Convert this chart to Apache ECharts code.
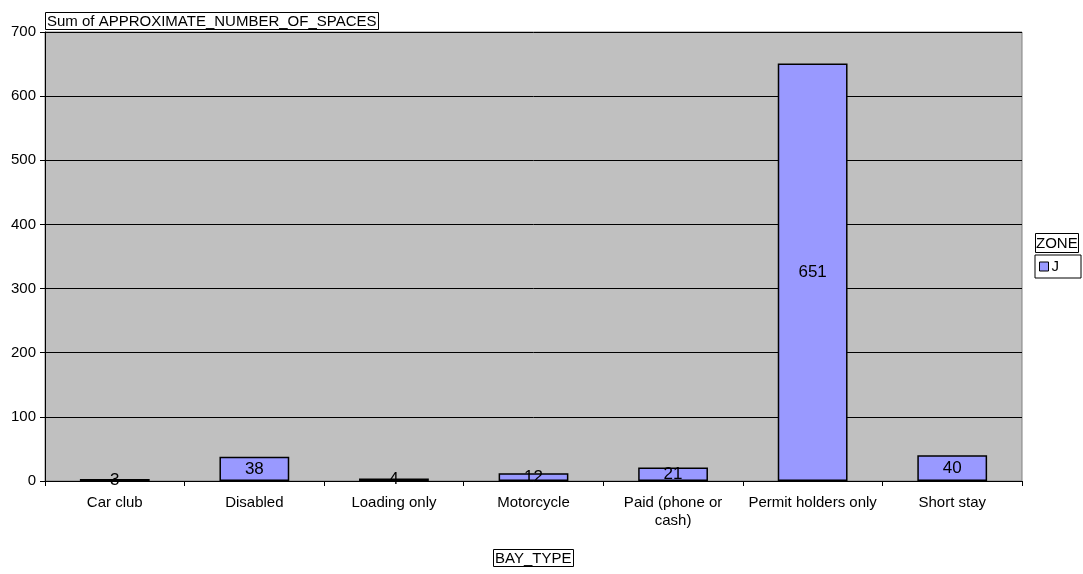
<!DOCTYPE html>
<html>
<head>
<meta charset="utf-8">
<script src="https://cdn.jsdelivr.net/npm/echarts@6/dist/echarts.min.js"></script>
<style>
  html, body { margin: 0; padding: 0; background: #fff; }
  #chart { width: 1083px; height: 574px; }
</style>
</head>
<body>
<div id="chart"></div>
<script>
const bayTypes = ['Car club', 'Disabled', 'Loading only', 'Motorcycle', 'Paid (phone or cash)', 'Permit holders only', 'Short stay'];
const zoneJ = [3, 38, 4, 12, 21, 651, 40];
const yTicks = [0, 100, 200, 300, 400, 500, 600, 700];

const chart = echarts.init(document.getElementById('chart'));
const font = 'Arial, "Liberation Sans", sans-serif';
const boxText = { fontSize: 15, fontWeight: 'normal', color: '#000', fontFamily: font };

chart.setOption({
    animation: false,
    textStyle: { fontFamily: font },
    title: [
        {
            text: 'Sum of APPROXIMATE_NUMBER_OF_SPACES',
            left: 45, top: 12,
            padding: [2, 2, 1, 2],
            borderColor: '#000', borderWidth: 1,
            textStyle: boxText
        },
        {
            text: 'BAY_TYPE',
            left: 493, top: 549,
            padding: [2, 2, 1, 2],
            borderColor: '#000', borderWidth: 1,
            textStyle: boxText
        },
        {
            text: 'ZONE',
            left: 1035, top: 233,
            padding: [3, 1, 2, 1],
            borderColor: '#000', borderWidth: 1,
            textStyle: boxText
        }
    ],
    legend: {
        data: ['J'],
        left: 1035, top: 255,
        padding: [4, 22, 4, 4],
        borderColor: '#000', borderWidth: 1,
        itemWidth: 9, itemHeight: 9,
        itemGap: 4,
        icon: 'rect',
        itemStyle: { borderColor: '#000', borderWidth: 1 },
        textStyle: { fontSize: 15, color: '#000', padding: [0, 0, 0, -2] }
    },
    grid: {
        left: 45, right: 61, top: 32, bottom: 93,
        show: true,
        backgroundColor: '#c0c0c0',
        borderColor: '#808080', borderWidth: 1
    },
    xAxis: {
        type: 'category',
        data: bayTypes,
        axisLine: { lineStyle: { color: '#000' } },
        axisTick: { show: true, length: 5, lineStyle: { color: '#000' } },
        axisLabel: {
            color: '#000', fontSize: 15, margin: 13, interval: 0, lineHeight: 18,
            formatter: v => v === 'Paid (phone or cash)' ? 'Paid (phone or\ncash)' : v
        }
    },
    yAxis: {
        type: 'value',
        min: yTicks[0], max: yTicks[yTicks.length - 1], interval: 100,
        axisLine: { show: true, lineStyle: { color: '#000' } },
        axisTick: { show: true, length: 5, lineStyle: { color: '#000' } },
        axisLabel: { color: '#000', fontSize: 15, margin: 9 },
        splitLine: { lineStyle: { color: '#000', width: 1 } }
    },
    series: [{
        name: 'J',
        type: 'bar',
        data: zoneJ,
        barWidth: '50%',
        itemStyle: { color: '#9999ff', borderColor: '#000', borderWidth: 1.5 },
        label: { show: true, position: 'inside', color: '#000', fontSize: 17 }
    }]
});
</script>
</body>
</html>
